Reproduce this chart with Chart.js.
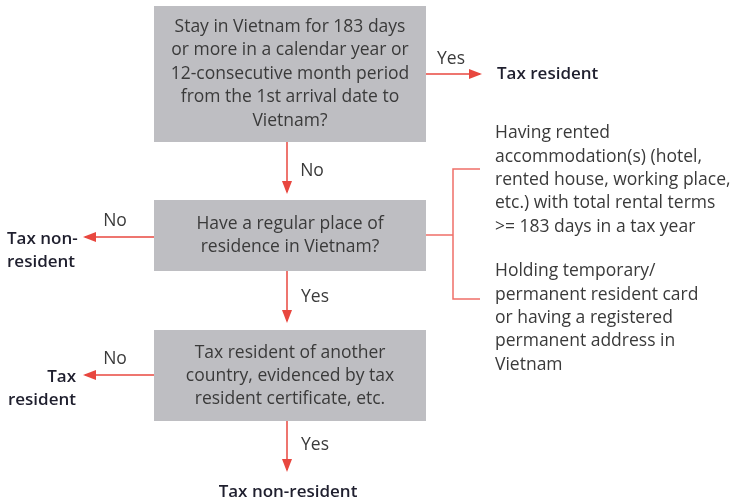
<!DOCTYPE html>
<html>
<head>
<meta charset="utf-8">
<script src="https://cdn.jsdelivr.net/npm/chart.js@4"></script>
<style>
  html, body { margin: 0; padding: 0; background: #fff; }
  #flow { display: block; }
</style>
</head>
<body>
<canvas id="flow" width="736" height="503"></canvas>
<script>
// flowchart text
const questions = [
  ["Stay in Vietnam for 183 days", "or more in a calendar year or", "12-consecutive month period", "from the 1st arrival date to", "Vietnam?"],
  ["Have a regular place of", "residence in Vietnam?"],
  ["Tax resident of another", "country, evidenced by tax", "resident certificate, etc."]
];
const outcomes = [
  ["Tax resident"],
  ["Tax non-", "resident"],
  ["Tax", "resident"],
  ["Tax non-resident"]
];
const branchLabels = ["Yes", "No", "No", "Yes", "No", "Yes"];
const conditions = [
  ["Having rented", "accommodation(s) (hotel,", "rented house, working place,", "etc.) with total rental terms", ">= 183 days in a tax year"],
  ["Holding temporary/", "permanent resident card", "or having a registered", "permanent address in", "Vietnam"]
];

const FONT = '"Open Sans", "Noto Sans", sans-serif';
const RED = "#e8473f";
const PINK = "#ef6f68";
const BOX = "#bebec2";
const TXT = "#3a3a3a";
const DARK = "#1f1f2e";

// layout in chart units (x: 0..736, y: 0..503 top-down)
const boxes = [
  { x0: 154, x1: 426, y0: 6, y1: 142, cy: 74, lh: 23.5 },
  { x0: 154, x1: 426, y0: 200, y1: 271, cy: 236, lh: 23 },
  { x0: 154, x1: 426, y0: 330, y1: 421, cy: 376, lh: 23 }
];

function arrow(ctx, x0, y0, x1, y1) {
  ctx.strokeStyle = RED;
  ctx.fillStyle = RED;
  ctx.lineWidth = 1.5;
  ctx.beginPath();
  ctx.moveTo(x0, y0);
  ctx.lineTo(x1, y1);
  ctx.stroke();
  const a = Math.atan2(y1 - y0, x1 - x0);
  const L = 11, W = 5;
  ctx.beginPath();
  ctx.moveTo(x1 + Math.cos(a) * 2, y1 + Math.sin(a) * 2);
  ctx.lineTo(x1 - Math.cos(a) * L - Math.sin(a) * W, y1 - Math.sin(a) * L + Math.cos(a) * W);
  ctx.lineTo(x1 - Math.cos(a) * L + Math.sin(a) * W, y1 - Math.sin(a) * L - Math.cos(a) * W);
  ctx.closePath();
  ctx.fill();
}

function lines(ctx, arr, x, cy, lh, align, font, color) {
  ctx.font = font;
  ctx.fillStyle = color;
  ctx.textAlign = align;
  ctx.textBaseline = "middle";
  const top = cy - (arr.length - 1) * lh / 2;
  arr.forEach((t, i) => ctx.fillText(t, x, top + i * lh));
}

const flowPlugin = {
  id: "flow",
  afterDraw(chart) {
    const ctx = chart.ctx;
    const sx = v => chart.scales.x.getPixelForValue(v);
    const sy = v => chart.scales.y.getPixelForValue(v);
    const norm = "17.5px " + FONT;
    ctx.save();

    // question boxes
    boxes.forEach((b, i) => {
      ctx.fillStyle = BOX;
      ctx.fillRect(sx(b.x0), sy(b.y0), sx(b.x1) - sx(b.x0), sy(b.y1) - sy(b.y0));
      lines(ctx, questions[i], sx((b.x0 + b.x1) / 2), sy(b.cy), b.lh, "center", norm, TXT);
    });

    // arrows
    arrow(ctx, sx(426), sy(74), sx(480), sy(74));
    arrow(ctx, sx(287), sy(142), sx(287), sy(192));
    arrow(ctx, sx(154), sy(237), sx(85), sy(237));
    arrow(ctx, sx(287), sy(271), sx(287), sy(321));
    arrow(ctx, sx(154), sy(375), sx(85), sy(375));
    arrow(ctx, sx(287), sy(421), sx(287), sy(470));

    // branch labels
    const lblPos = [[451, 59], [312, 171], [115, 221], [315, 297], [115, 359], [315, 445]];
    lblPos.forEach((p, i) => lines(ctx, [branchLabels[i]], sx(p[0]), sy(p[1]), 0, "center", norm, TXT));

    // outcomes
    const bold = "600 17px " + FONT;
    lines(ctx, outcomes[0], sx(497), sy(74), 23, "left", bold, DARK);
    lines(ctx, outcomes[1], sx(7), sy(251), 23, "left", bold, DARK);
    lines(ctx, outcomes[2], sx(76), sy(389), 23, "right", bold, DARK);
    lines(ctx, outcomes[3], sx(288), sy(492), 23, "center", bold, DARK);

    // bracket
    ctx.strokeStyle = PINK;
    ctx.lineWidth = 1.5;
    ctx.beginPath();
    ctx.moveTo(sx(426), sy(235));
    ctx.lineTo(sx(453), sy(235));
    ctx.moveTo(sx(480), sy(169));
    ctx.lineTo(sx(453), sy(169));
    ctx.lineTo(sx(453), sy(299));
    ctx.lineTo(sx(480), sy(299));
    ctx.stroke();

    // condition notes
    lines(ctx, conditions[0], sx(495), sy(180), 23.3, "left", norm, TXT);
    lines(ctx, conditions[1], sx(495), sy(318), 23.3, "left", norm, TXT);

    ctx.restore();
  }
};

new Chart(document.getElementById("flow").getContext("2d"), {
  type: "scatter",
  data: { datasets: [{ data: [], pointRadius: 0 }] },
  options: {
    responsive: false,
    animation: false,
    events: [],
    layout: { padding: 0 },
    plugins: { legend: { display: false }, tooltip: { enabled: false } },
    scales: {
      x: { display: false, min: 0, max: 736 },
      y: { display: false, min: 0, max: 503, reverse: true }
    }
  },
  plugins: [flowPlugin]
});
</script>
</body>
</html>
